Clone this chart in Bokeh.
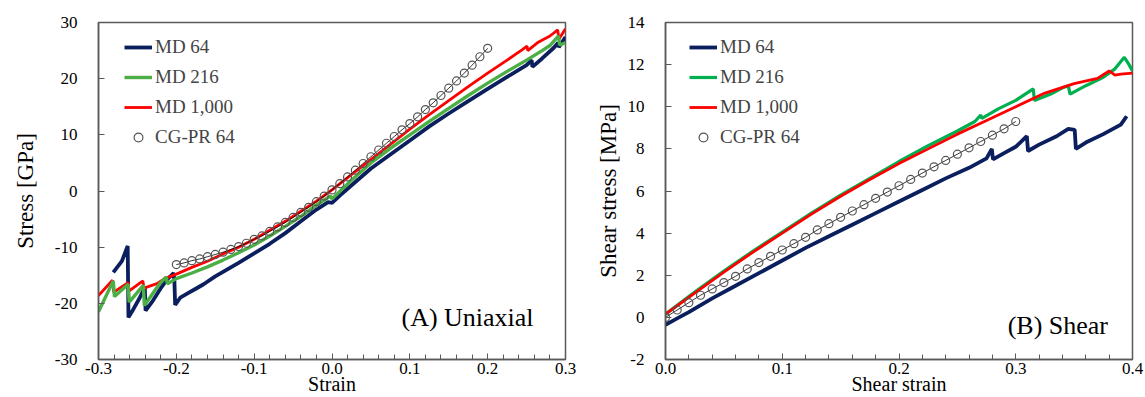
from bokeh.plotting import figure
from bokeh.layouts import row
from bokeh.models import FixedTicker, Legend, LegendItem, Label, Range1d, PrintfTickFormatter
from bokeh.embed import file_html
from bokeh.resources import INLINE

SERIF = "Liberation Serif"

# ---------------- (A) Uniaxial data ----------------
md64_strain_A = [-0.281, -0.270, -0.2625, -0.2615, -0.255, -0.247, -0.2405, -0.2395, -0.230, -0.220,
                 -0.212, -0.2035, -0.2025, -0.2015, -0.195, -0.185, -0.175, -0.165, -0.150, -0.135,
                 -0.120, -0.100, -0.080, -0.060, -0.040, -0.020, -0.005, 0.000, 0.010, 0.030,
                 0.050, 0.075, 0.100, 0.125, 0.150, 0.175, 0.200, 0.225, 0.250, 0.2565,
                 0.2575, 0.270, 0.285, 0.2905, 0.2915, 0.300]
md64_stress_A = [-14.5, -12.5, -9.8, -22.5, -21.0, -19.0, -17.2, -21.3, -19.5, -17.3,
                 -15.8, -14.6, -16.0, -20.3, -19.0, -18.2, -17.4, -16.6, -15.2, -14.0,
                 -12.8, -11.1, -9.4, -7.5, -5.4, -3.3, -2.0, -2.1, -0.8, 1.6,
                 4.0, 6.5, 9.0, 11.5, 13.8, 16.0, 18.2, 20.3, 22.4, 23.3,
                 22.1, 23.6, 25.5, 26.4, 25.6, 27.4]

md216_strain_A = [-0.300, -0.281, -0.2795, -0.262, -0.2605, -0.2425, -0.241, -0.222, -0.213, -0.2115,
                  -0.200, -0.180, -0.160, -0.140, -0.120, -0.100, -0.080, -0.060, -0.040, -0.020,
                  -0.002, 0.000, 0.025, 0.050, 0.075, 0.100, 0.125, 0.150, 0.175, 0.200,
                  0.225, 0.250, 0.270, 0.280, 0.291, 0.2925, 0.300]
md216_stress_A = [-21.5, -16.0, -18.8, -16.6, -19.8, -16.8, -20.4, -16.6, -15.3, -16.5,
                  -15.6, -14.6, -13.5, -12.3, -11.0, -9.6, -8.0, -6.3, -4.5, -2.5,
                  -0.9, -1.4, 1.9, 5.0, 7.6, 10.0, 12.4, 14.7, 17.0, 19.2,
                  21.3, 23.3, 25.0, 25.9, 27.6, 26.0, 26.4]

md1000_strain_A = [-0.300, -0.282, -0.2805, -0.262, -0.2605, -0.243, -0.2415, -0.225, -0.215, -0.200,
                   -0.180, -0.160, -0.140, -0.120, -0.100, -0.080, -0.060, -0.040, -0.020, 0.000,
                   0.025, 0.050, 0.075, 0.100, 0.125, 0.150, 0.175, 0.200, 0.225, 0.245,
                   0.2505, 0.2515, 0.265, 0.280, 0.290, 0.2915, 0.300]
md1000_stress_A = [-18.6, -15.9, -18.0, -16.3, -17.8, -16.0, -17.3, -16.5, -15.6, -14.8,
                   -13.6, -12.5, -11.2, -10.0, -8.6, -7.0, -5.4, -3.6, -1.8, 0.2,
                   2.9, 5.6, 8.3, 11.0, 13.6, 16.1, 18.6, 21.0, 23.3, 25.2,
                   25.8, 25.0, 26.5, 27.6, 28.7, 27.0, 28.9]

cg_strain_A = [-0.20, -0.19, -0.18, -0.17, -0.16, -0.15, -0.14, -0.13, -0.12, -0.11,
               -0.10, -0.09, -0.08, -0.07, -0.06, -0.05, -0.04, -0.03, -0.02, -0.01,
               0.00, 0.01, 0.02, 0.03, 0.04, 0.05, 0.06, 0.07, 0.08, 0.09,
               0.10, 0.11, 0.12, 0.13, 0.14, 0.15, 0.16, 0.17, 0.18, 0.19, 0.20]
cg_stress_A = [-13.1, -12.8, -12.4, -12.1, -11.7, -11.3, -10.9, -10.4, -9.9, -9.3,
               -8.6, -8.0, -7.2, -6.4, -5.6, -4.7, -3.8, -2.9, -1.9, -0.9,
               0.2, 1.3, 2.5, 3.7, 4.9, 6.1, 7.3, 8.5, 9.7, 10.9,
               12.0, 13.2, 14.5, 15.7, 17.0, 18.3, 19.6, 21.0, 22.4, 23.9, 25.4]

# ---------------- (B) Shear data ----------------
md64_strain_B = [0.000, 0.005, 0.010, 0.020, 0.040, 0.060, 0.080, 0.100, 0.120, 0.140,
                 0.160, 0.180, 0.200, 0.220, 0.240, 0.260, 0.275, 0.2795, 0.2805, 0.290,
                 0.300, 0.3095, 0.3105, 0.320, 0.335, 0.345, 0.3505, 0.3515, 0.360, 0.375,
                 0.390, 0.395]
md64_stress_B = [-0.35, -0.2, -0.05, 0.25, 0.9, 1.5, 2.1, 2.7, 3.3, 3.85,
                 4.4, 4.95, 5.5, 6.05, 6.6, 7.1, 7.55, 8.0, 7.5, 7.8,
                 8.1, 8.6, 7.9, 8.2, 8.6, 8.95, 8.9, 8.0, 8.3, 8.7,
                 9.15, 9.55]

md216_strain_B = [0.000, 0.025, 0.050, 0.075, 0.100, 0.125, 0.150, 0.175, 0.200, 0.225,
                  0.250, 0.265, 0.270, 0.271, 0.285, 0.300, 0.315, 0.316, 0.330, 0.340,
                  0.345, 0.3465, 0.360, 0.375, 0.385, 0.393, 0.397, 0.400]
md216_stress_B = [0.15, 1.2, 2.2, 3.15, 4.05, 4.95, 5.8, 6.6, 7.4, 8.15,
                  8.85, 9.3, 9.6, 9.45, 9.9, 10.3, 10.85, 10.3, 10.6, 10.9,
                  11.0, 10.6, 11.0, 11.4, 11.8, 12.35, 12.0, 11.7]

md1000_strain_B = [0.000, 0.025, 0.050, 0.075, 0.100, 0.125, 0.150, 0.175, 0.200, 0.225,
                   0.250, 0.275, 0.300, 0.325, 0.350, 0.370, 0.380, 0.385, 0.390, 0.400]
md1000_stress_B = [0.15, 1.15, 2.15, 3.1, 4.0, 4.9, 5.75, 6.55, 7.3, 8.0,
                   8.7, 9.35, 10.0, 10.65, 11.1, 11.35, 11.7, 11.5, 11.55, 11.6]

cg_strain_B = [0.00, 0.01, 0.02, 0.03, 0.04, 0.05, 0.06, 0.07, 0.08, 0.09,
               0.10, 0.11, 0.12, 0.13, 0.14, 0.15, 0.16, 0.17, 0.18, 0.19,
               0.20, 0.21, 0.22, 0.23, 0.24, 0.25, 0.26, 0.27, 0.28, 0.29, 0.30]
cg_stress_B = [0.0, 0.35, 0.7, 1.05, 1.35, 1.65, 1.95, 2.3, 2.6, 2.9,
               3.2, 3.5, 3.8, 4.15, 4.45, 4.75, 5.05, 5.35, 5.65, 5.95,
               6.25, 6.55, 6.85, 7.15, 7.45, 7.75, 8.05, 8.35, 8.65, 8.95, 9.3]

legend_labels = ["MD 64", "MD 216", "MD 1,000", "CG-PR 64"]

ticks_x_A = [-0.3, -0.2, -0.1, 0.0, 0.1, 0.2, 0.3]
minor_x_A = [round(-0.3 + 0.02 * i, 2) for i in range(31)]
ticks_y_A = [-30, -20, -10, 0, 10, 20, 30]
ticks_x_B = [0.0, 0.1, 0.2, 0.3, 0.4]
minor_x_B = [round(0.02 * i, 2) for i in range(21)]
ticks_y_B = [-2, 0, 2, 4, 6, 8, 10, 12, 14]

NAVY = "#0b1f5e"
RED = "#ff0000"
GREEN_A = "#4caf45"
GREEN_B = "#00b050"
FRAME = "#595959"

H = 397
TOP = 22
BOTTOM = 30


def make_fig(width, left, right, xr, yr, xlabel, ylabel, xt, xm, yt, ylab_standoff):
    p = figure(width=width, height=H, output_backend="svg", toolbar_location=None,
               x_range=Range1d(*xr), y_range=Range1d(*yr),
               min_border_left=left, min_border_right=right,
               min_border_top=TOP, min_border_bottom=BOTTOM)
    p.xgrid.visible = False
    p.ygrid.visible = False
    p.outline_line_color = FRAME
    p.outline_line_width = 1.5
    p.xaxis.ticker = FixedTicker(ticks=xt, minor_ticks=xm)
    p.yaxis.ticker = FixedTicker(ticks=yt, minor_ticks=[])
    p.xaxis.formatter = PrintfTickFormatter(format="%.1f")
    p.yaxis.formatter = PrintfTickFormatter(format="%d")
    for ax in (p.xaxis, p.yaxis):
        ax.axis_line_color = FRAME
        ax.axis_line_width = 1.5
        ax.major_tick_line_color = FRAME
        ax.minor_tick_line_color = FRAME
        ax.major_tick_in = 6
        ax.major_tick_out = 0
        ax.minor_tick_in = 5
        ax.minor_tick_out = 0
        ax.major_label_text_font = SERIF
        ax.major_label_text_font_size = "17px"
        ax.major_label_text_color = "black"
        ax.axis_label_text_font = SERIF
        ax.axis_label_text_font_style = "normal"
        ax.axis_label_text_color = "black"
    p.xaxis.axis_label_text_font_size = "20px"
    p.yaxis.axis_label_text_font_size = "23px"
    p.xaxis.axis_label = xlabel
    p.yaxis.axis_label = ylabel
    p.xaxis.major_label_standoff = 3
    p.xaxis.axis_label_standoff = -4
    p.yaxis.major_label_standoff = 21
    p.yaxis.axis_label_standoff = ylab_standoff
    return p


def add_legend(p, renderers, xoff, frame_h):
    items = [LegendItem(label=lab, renderers=[r]) for lab, r in zip(legend_labels, renderers)]
    leg = Legend(items=items, location=(xoff, frame_h - 14 - 112), padding=0, margin=0,
                 spacing=8, glyph_width=28, glyph_height=22, label_height=22,
                 label_standoff=3, label_text_font=SERIF, label_text_font_size="19px",
                 background_fill_alpha=0, border_line_color=None)
    p.add_layout(leg)


FRAME_H = H - TOP - 38

# ---- panel A ----
pa = make_fig(590, 98, 25, (-0.3, 0.3), (-30, 30), "Strain", "Stress [GPa]",
              ticks_x_A, minor_x_A, ticks_y_A, 14)
r64a = pa.line(md64_strain_A, md64_stress_A, line_color=NAVY, line_width=3.8)
r1000a = pa.line(md1000_strain_A, md1000_stress_A, line_color=RED, line_width=2.8)
r216a = pa.line(md216_strain_A, md216_stress_A, line_color=GREEN_A, line_width=3.4)
pa.line(cg_strain_A, cg_stress_A, line_color="black", line_width=0.8)
rcga = pa.scatter(cg_strain_A, cg_stress_A, size=8, marker="circle", fill_color=None,
                  line_color="#555555", line_width=1.2)
add_legend(pa, [r64a, r216a, r1000a, rcga], 26, FRAME_H)
pa.add_layout(Label(x=0.259, y=-22.5, text="(A) Uniaxial", text_align="right",
                    text_baseline="middle", text_font=SERIF, text_font_size="26px",
                    text_color="black"))

# ---- panel B ----
pb = make_fig(555, 75, 13, (0.0, 0.4), (-2, 14), "Shear strain", "Shear stress [MPa]",
              ticks_x_B, minor_x_B, ticks_y_B, 4)
r64b = pb.line(md64_strain_B, md64_stress_B, line_color=NAVY, line_width=3.8)
r216b = pb.line(md216_strain_B, md216_stress_B, line_color=GREEN_B, line_width=3.2)
r1000b = pb.line(md1000_strain_B, md1000_stress_B, line_color=RED, line_width=2.8)
pb.line(cg_strain_B, cg_stress_B, line_color="black", line_width=0.8)
rcgb = pb.scatter(cg_strain_B, cg_stress_B, size=8, marker="circle", fill_color=None,
                  line_color="#555555", line_width=1.2)
add_legend(pb, [r64b, r216b, r1000b, rcgb], 24, FRAME_H)
pb.add_layout(Label(x=0.379, y=-0.37, text="(B) Shear", text_align="right",
                    text_baseline="middle", text_font=SERIF, text_font_size="26px",
                    text_color="black"))

layout = row(pa, pb)
open("out.html", "w").write(file_html(layout, INLINE))
